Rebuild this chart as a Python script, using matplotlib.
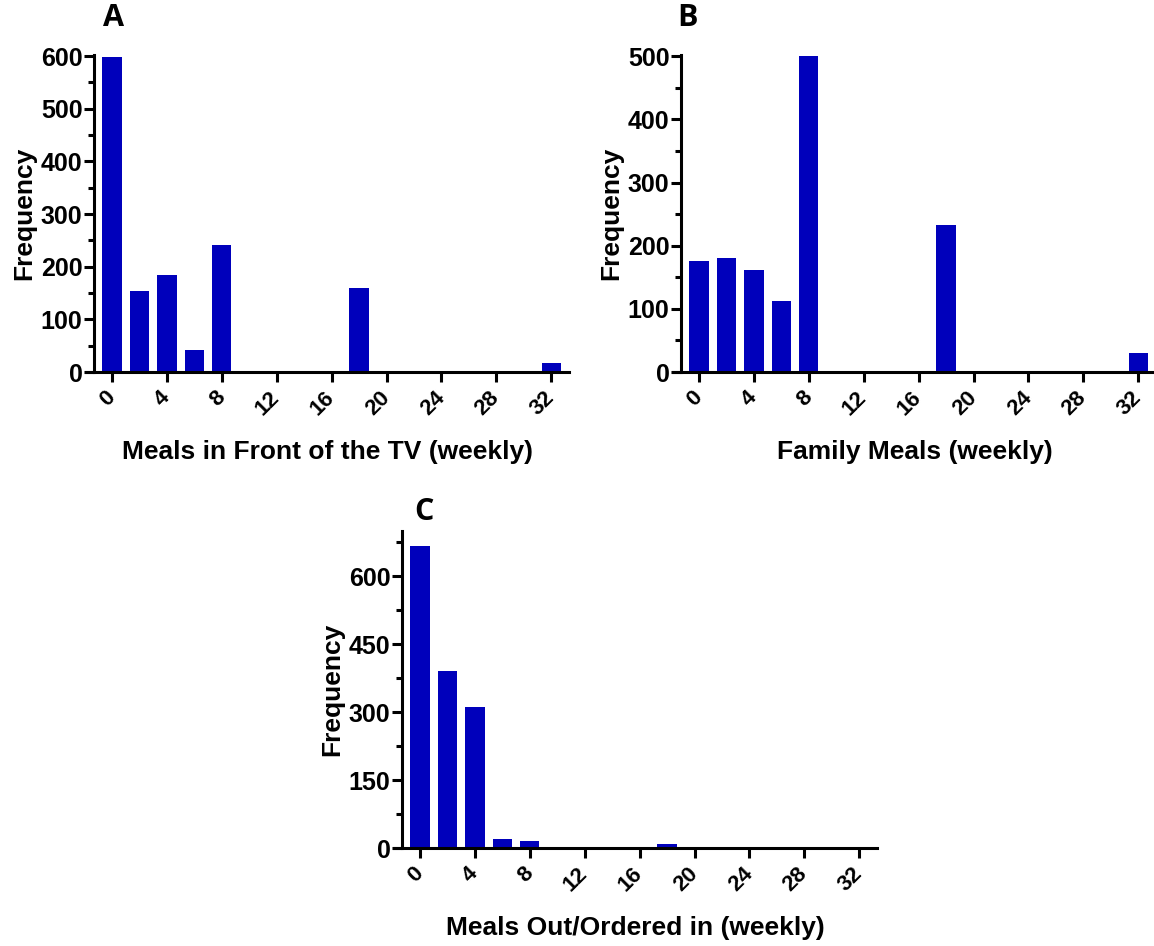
import matplotlib
matplotlib.use("Agg")
import matplotlib.pyplot as plt
from matplotlib.ticker import MultipleLocator

# ---- data ----
meal_bins_ab = [0, 2, 4, 6, 8, 18, 32]
tv_meals = [598, 154, 184, 42, 242, 159, 17]
family_meals = [176, 181, 161, 112, 500, 233, 30]
meal_bins_c = [0, 2, 4, 6, 8, 18]
out_meals = [667, 391, 311, 19, 16, 8]
xtick_vals = [0, 4, 8, 12, 16, 20, 24, 28, 32]

plt.rcParams['font.family'] = ['Liberation Sans', 'DejaVu Sans']
plt.rcParams['font.weight'] = 'bold'

W, H = 1154, 946
fig = plt.figure(figsize=(W / 100, H / 100), dpi=100)

BAR_COLOR = '#0000BB'
LW = 2.2


def panel(rect, xs, ys, ylim, ymajor, xlabel, letter, letter_xy):
    ax = fig.add_axes(rect)
    ax.bar(xs, ys, width=1.4, color=BAR_COLOR, edgecolor='none', zorder=2)
    ax.set_xlim(-1.9, 33.3)
    ax.set_ylim(0, ylim)
    ax.spines['top'].set_visible(False)
    ax.spines['right'].set_visible(False)
    ax.spines['left'].set_position(('data', -1.35))
    for s in ('left', 'bottom'):
        ax.spines[s].set_linewidth(LW)
        ax.spines[s].set_capstyle('projecting')
    ax.spines['bottom'].set_zorder(3)
    ax.yaxis.set_major_locator(MultipleLocator(ymajor))
    ax.yaxis.set_minor_locator(MultipleLocator(ymajor / 2))
    ax.set_xticks(xtick_vals)
    ax.set_xticklabels([str(v) for v in xtick_vals], rotation=45,
                       ha='right', va='center', rotation_mode='anchor')
    ax.tick_params(axis='both', which='major', direction='out', length=7,
                   width=LW)
    ax.tick_params(axis='y', labelsize=18, pad=1)
    ax.tick_params(axis='x', labelsize=16, pad=9)
    ax.tick_params(axis='y', which='minor', direction='out', length=4, width=LW)
    for lab in ax.get_xticklabels() + ax.get_yticklabels():
        lab.set_fontweight('bold')
    ax.set_ylabel('Frequency', fontsize=19, fontweight='bold', labelpad=3)
    ax.set_xlabel(xlabel, fontsize=19, fontweight='bold', labelpad=15)
    fig.text(letter_xy[0] / W, 1 - letter_xy[1] / H, letter, fontsize=22,
             fontweight='bold', family=['Open Sans', 'DejaVu Sans'],
             ha='center', va='center')
    return ax


h = 317 / H
panel([86 / W, 1 - 372 / H, 483 / W, h], meal_bins_ab, tv_meals, 602, 100,
      'Meals in Front of the TV (weekly)', 'A', (113, 18))
panel([673 / W, 1 - 372 / H, 483 / W, h], meal_bins_ab, family_meals, 502, 100,
      'Family Meals (weekly)', 'B', (688, 18))
panel([394 / W, 1 - 848 / H, 483 / W, h], meal_bins_c, out_meals, 700, 150,
      'Meals Out/Ordered in (weekly)', 'C', (424, 512))

fig.savefig('out.png', dpi=100)
